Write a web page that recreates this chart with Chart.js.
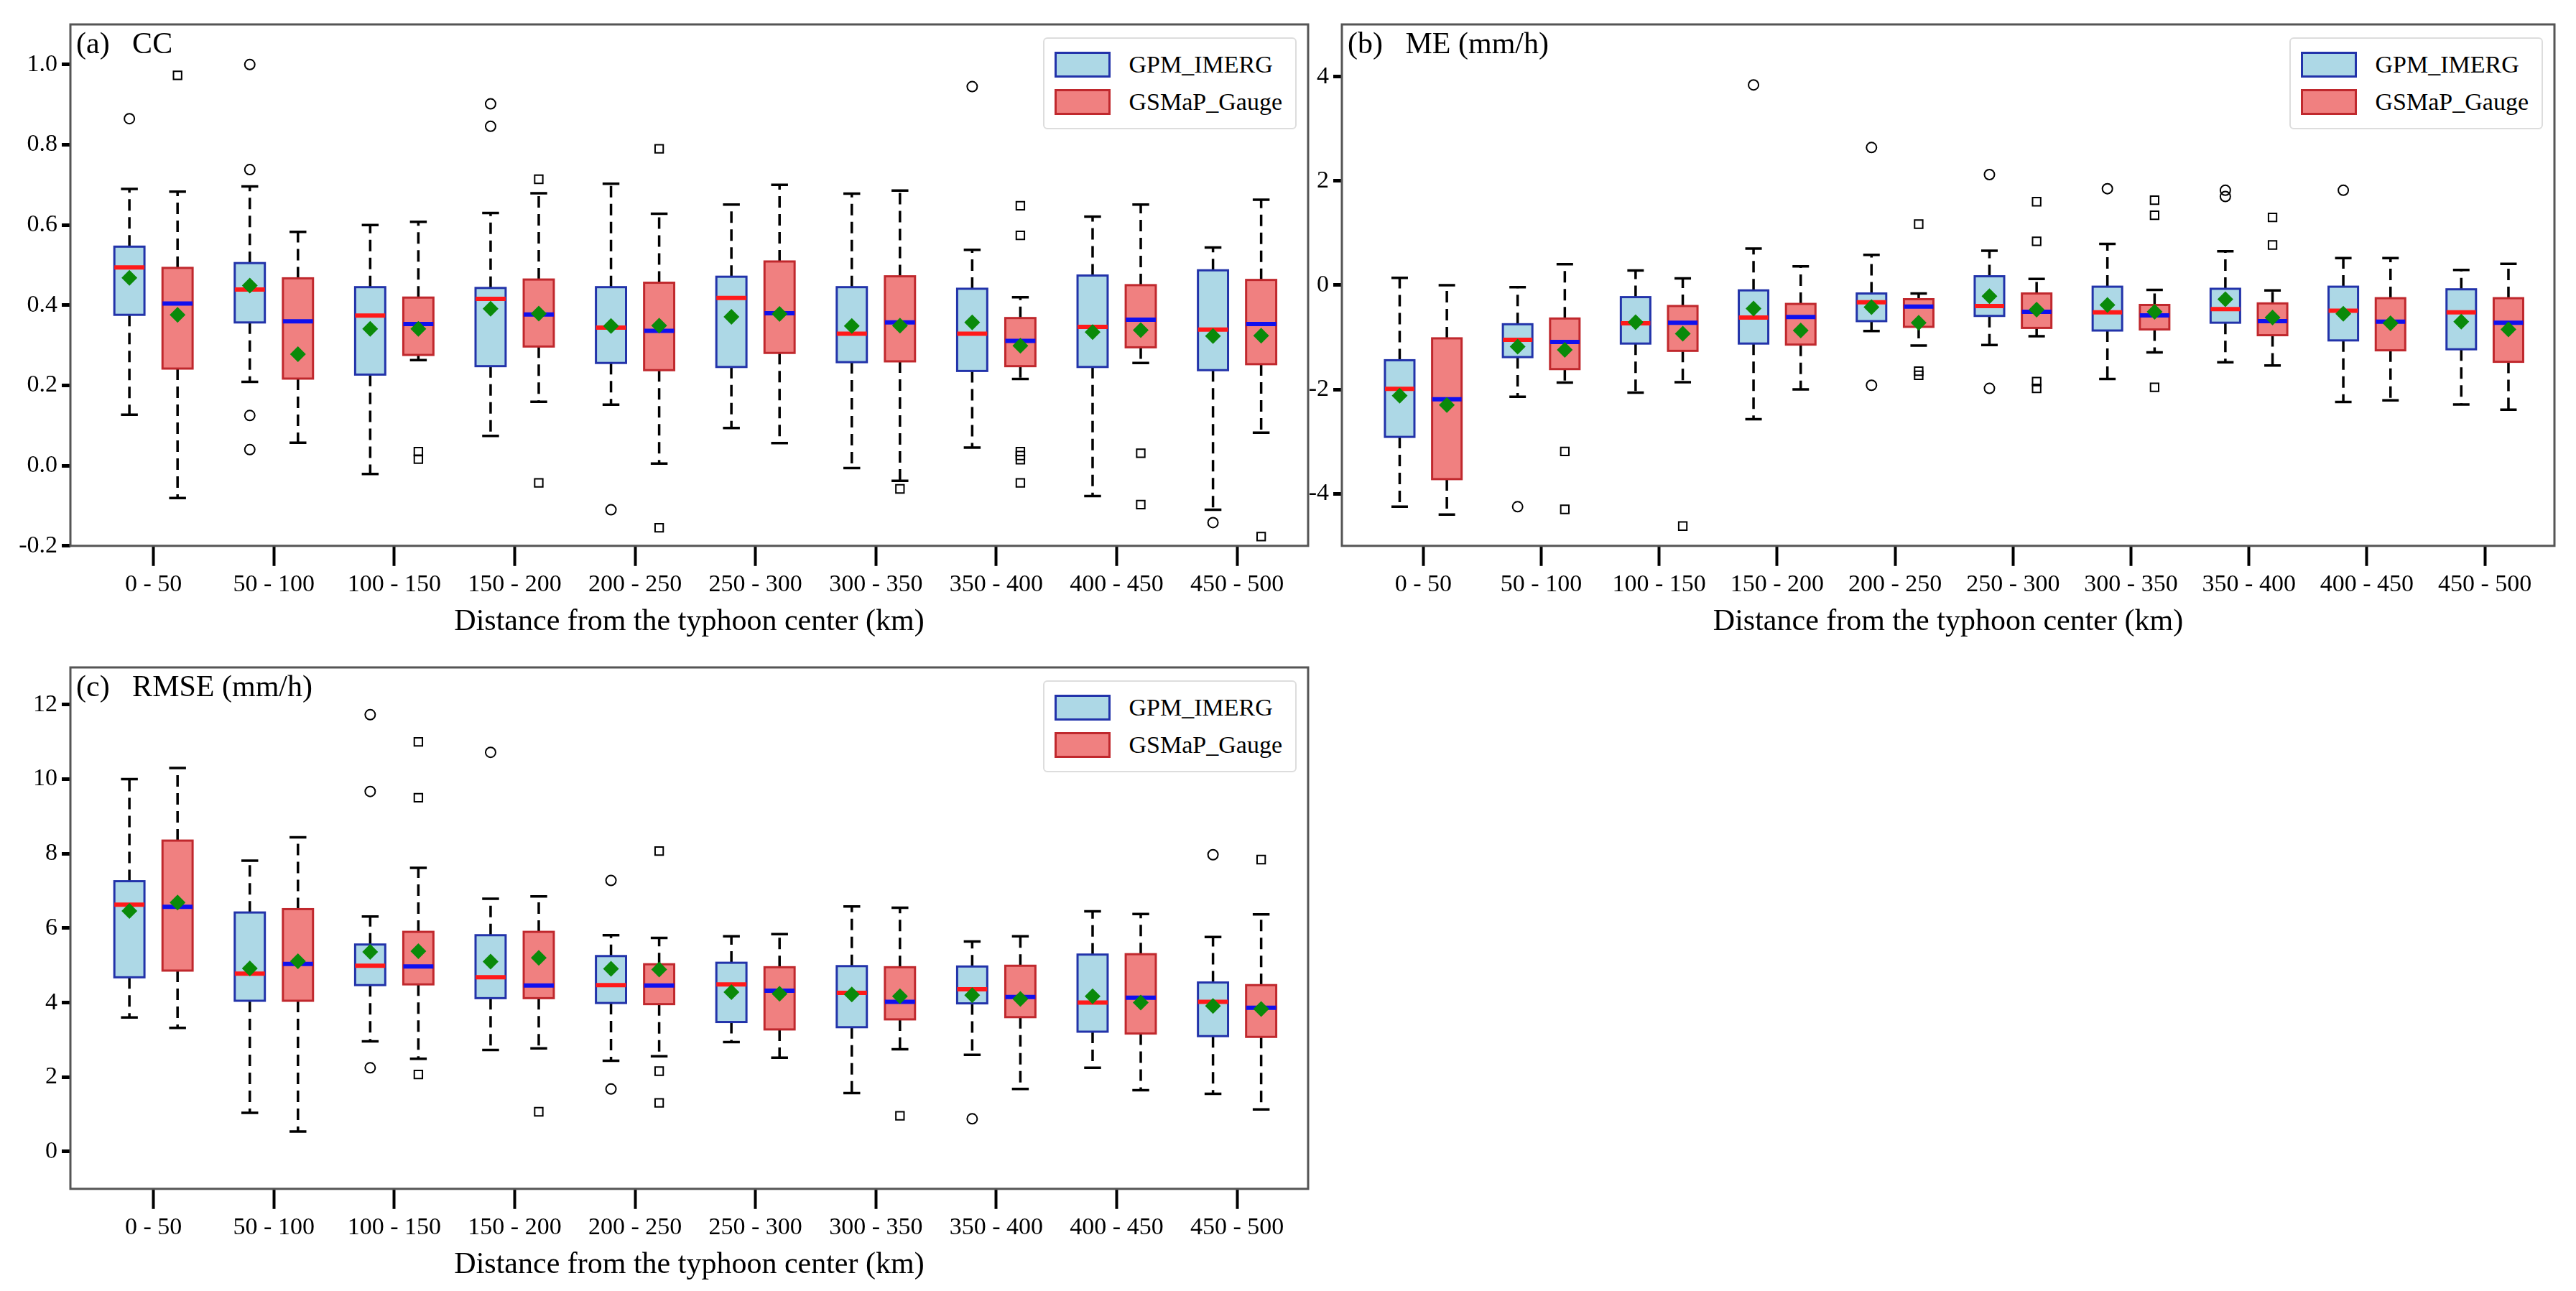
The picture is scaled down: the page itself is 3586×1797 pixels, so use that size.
<!DOCTYPE html>
<html>
<head>
<meta charset="utf-8">
<script src="https://cdn.jsdelivr.net/npm/chart.js@4.4.0/dist/chart.umd.min.js"></script>
<style>
  body { margin: 0; background: #fff; width: 3586px; height: 1797px; position: relative; overflow: hidden; font-family: "Liberation Serif", serif; }
  .wrap { position: absolute; }
  .lab { position: absolute; font-size: 42px; color: #000; white-space: pre; }
  .leg { position: absolute; background: #fff; border: 2px solid #ddd; border-radius: 6px; padding: 10px 18px 10px 14px; font-size: 34px; }
  .leg div { display: flex; align-items: center; height: 52px; }
  .leg span.sw { display: inline-block; width: 78px; height: 36px; margin-right: 26px; box-sizing: border-box; }
</style>
</head>
<body>
<div class="wrap" id="wa" style="left:0;top:0;width:1835px;height:895px"><canvas id="ca"></canvas></div>
<div class="wrap" id="wb" style="left:1770px;top:0;width:1800px;height:895px"><canvas id="cb"></canvas></div>
<div class="wrap" id="wc" style="left:0;top:895px;width:1835px;height:895px"><canvas id="cc"></canvas></div>
<script>
const categories = ['0 - 50', '50 - 100', '100 - 150', '150 - 200', '200 - 250', '250 - 300', '300 - 350', '350 - 400', '400 - 450', '450 - 500'];

// each box: [whiskerLow, q1, median, q3, whiskerHigh]
const ccImerg = [[0.127,0.376,0.494,0.546,0.69],[0.209,0.357,0.439,0.505,0.696],[-0.021,0.227,0.374,0.445,0.6],[0.074,0.248,0.416,0.443,0.63],[0.152,0.256,0.344,0.445,0.703],[0.094,0.246,0.418,0.471,0.651],[-0.006,0.258,0.329,0.445,0.678],[0.045,0.236,0.329,0.441,0.538],[-0.076,0.246,0.346,0.474,0.621],[-0.11,0.238,0.339,0.487,0.544]];
const ccGauge = [[-0.081,0.242,0.404,0.493,0.683],[0.057,0.217,0.36,0.467,0.583],[0.263,0.276,0.353,0.419,0.608],[0.159,0.297,0.377,0.464,0.679],[0.005,0.238,0.336,0.456,0.628],[0.056,0.281,0.38,0.509,0.70],[-0.038,0.26,0.357,0.472,0.686],[0.216,0.248,0.311,0.368,0.42],[0.256,0.295,0.364,0.45,0.651],[0.082,0.253,0.353,0.463,0.663]];
const ccImergMean = [0.468,0.449,0.341,0.391,0.348,0.371,0.348,0.357,0.333,0.323];
const ccGaugeMean = [0.376,0.278,0.341,0.379,0.349,0.378,0.349,0.299,0.338,0.324];
const ccImergOut = [[0.865],[1.0,0.738,0.125,0.04],[],[0.902,0.846],[-0.11],[],[],[0.945],[],[-0.142]];
const ccGaugeOut = [[0.973],[],[0.035,0.016],[0.714,-0.043],[0.79,-0.155],[],[-0.058],[0.648,0.574,0.035,0.025,0.015,-0.043],[0.031,-0.097],[-0.177]];
const ccTicks = [-0.2, 0.0, 0.2, 0.4, 0.6, 0.8, 1.0];

const meImerg = [[-4.25,-2.91,-1.99,-1.44,0.14],[-2.14,-1.38,-1.05,-0.75,-0.04],[-2.06,-1.12,-0.73,-0.23,0.28],[-2.57,-1.12,-0.62,-0.1,0.70],[-0.88,-0.69,-0.33,-0.16,0.58],[-1.15,-0.59,-0.4,0.17,0.66],[-1.8,-0.87,-0.52,-0.03,0.79],[-1.48,-0.72,-0.46,-0.07,0.65],[-2.24,-1.06,-0.49,-0.03,0.52],[-2.29,-1.23,-0.52,-0.08,0.29]];
const meGauge = [[-4.4,-3.72,-2.19,-1.02,0.0],[-1.87,-1.61,-1.09,-0.64,0.40],[-1.86,-1.26,-0.72,-0.4,0.13],[-2.0,-1.14,-0.61,-0.36,0.36],[-1.16,-0.80,-0.41,-0.27,-0.16],[-0.98,-0.82,-0.51,-0.16,0.12],[-1.29,-0.85,-0.58,-0.38,-0.09],[-1.54,-0.96,-0.69,-0.35,-0.1],[-2.21,-1.25,-0.7,-0.25,0.52],[-2.39,-1.47,-0.72,-0.25,0.41]];
const meImergMean = [-2.12,-1.18,-0.71,-0.45,-0.42,-0.21,-0.38,-0.27,-0.55,-0.70];
const meGaugeMean = [-2.30,-1.24,-0.93,-0.87,-0.72,-0.47,-0.51,-0.62,-0.73,-0.85];
const meImergOut = [[],[-4.25],[],[3.84],[2.64,-1.92],[2.12,-1.98],[1.85],[1.82,1.7],[1.82],[]];
const meGaugeOut = [[],[-3.19,-4.3],[-4.62],[],[1.17,-1.65,-1.73],[1.6,0.84,-1.85,-1.98],[1.63,1.34,-1.96],[1.3,0.77],[],[]];
const meTicks = [-4, -2, 0, 2, 4];

const rmImerg = [[3.6,4.68,6.63,7.26,10.0],[1.04,4.05,4.78,6.42,7.81],[2.96,4.47,4.99,5.56,6.31],[2.73,4.12,4.68,5.81,6.79],[2.44,3.99,4.47,5.25,5.81],[2.94,3.48,4.49,5.07,5.78],[1.57,3.34,4.26,4.98,6.58],[2.6,3.98,4.36,4.97,5.64],[2.25,3.22,4.0,5.29,6.45],[1.55,3.1,4.02,4.54,5.76]];
const rmGauge = [[3.32,4.86,6.57,8.35,10.3],[0.54,4.05,5.04,6.51,8.44],[2.49,4.49,4.97,5.9,7.62],[2.77,4.12,4.46,5.9,6.85],[2.56,3.96,4.46,5.03,5.74],[2.52,3.28,4.32,4.95,5.84],[2.75,3.55,4.02,4.95,6.55],[1.68,3.61,4.15,4.99,5.78],[1.65,3.17,4.13,5.3,6.38],[1.13,3.08,3.86,4.47,6.37]];
const rmImergMean = [6.46,4.92,5.36,5.1,4.91,4.28,4.22,4.2,4.17,3.91];
const rmGaugeMean = [6.69,5.11,5.38,5.2,4.89,4.24,4.17,4.1,4.0,3.83];
const rmImergOut = [[],[],[11.73,9.67,2.25],[10.72],[7.28,1.68],[],[],[0.88],[],[7.97]];
const rmGaugeOut = [[],[],[11.0,9.5,2.07],[1.07],[8.07,2.16,1.31],[],[0.96],[],[],[7.84]];
const rmTicks = [0, 2, 4, 6, 8, 10, 12];

const OFF = 0.2, HALF = 0.125, CAP = 0.07;
const FONT = "'Liberation Serif', 'DejaVu Serif', serif";

function pts(arr, off) {
  const out = [];
  arr.forEach((v, i) => { [].concat(v).forEach(y => out.push({ x: i + off, y })); });
  return out;
}

const boxPlugin = {
  id: 'boxes',
  beforeDatasetsDraw(chart) {
    const { ctx, scales: { x, y } } = chart;
    const groups = chart.options.plugins.boxes.groups;
    ctx.save();
    groups.forEach(g => {
      g.data.forEach((b, i) => {
        const cx = x.getPixelForValue(i + g.off);
        const l = x.getPixelForValue(i + g.off - HALF), r = x.getPixelForValue(i + g.off + HALF);
        const cl = x.getPixelForValue(i + g.off - CAP), cr = x.getPixelForValue(i + g.off + CAP);
        const [lo, q1, md, q3, hi] = b.map(v => y.getPixelForValue(v));
        ctx.strokeStyle = '#000'; ctx.lineWidth = 3.5;
        ctx.setLineDash([16, 9]);
        ctx.beginPath(); ctx.moveTo(cx, q3); ctx.lineTo(cx, hi); ctx.moveTo(cx, q1); ctx.lineTo(cx, lo); ctx.stroke();
        ctx.setLineDash([]);
        ctx.beginPath(); ctx.moveTo(cl, hi); ctx.lineTo(cr, hi); ctx.moveTo(cl, lo); ctx.lineTo(cr, lo); ctx.stroke();
        ctx.fillStyle = g.fill; ctx.fillRect(l, q3, r - l, q1 - q3);
        ctx.strokeStyle = g.edge; ctx.lineWidth = 3; ctx.strokeRect(l, q3, r - l, q1 - q3);
        ctx.strokeStyle = g.med; ctx.lineWidth = 6;
        ctx.beginPath(); ctx.moveTo(l, md); ctx.lineTo(r, md); ctx.stroke();
      });
    });
    ctx.restore();
  },
  afterDraw(chart) {
    const { ctx, chartArea: a } = chart;
    ctx.save();
    ctx.strokeStyle = '#555'; ctx.lineWidth = 3;
    ctx.strokeRect(a.left, a.top, a.right - a.left, a.bottom - a.top);
    ctx.restore();
  }
};

function makePanel(id, wrapId, label, imerg, gauge, iMean, gMean, iOut, gOut, ticks, ymin, ymax, digits) {
  const chart = new Chart(document.getElementById(id), {
    type: 'scatter',
    data: {
      datasets: [
        { data: pts(iOut, -OFF), pointStyle: 'circle', radius: 7, borderColor: '#000', borderWidth: 2, backgroundColor: 'rgba(0,0,0,0)' },
        { data: pts(gOut, OFF), pointStyle: 'rect', radius: 8, borderColor: '#000', borderWidth: 2, backgroundColor: 'rgba(0,0,0,0)' },
        { data: pts(iMean, -OFF), pointStyle: 'rectRot', radius: 11, borderWidth: 0, backgroundColor: '#0a8a0a' },
        { data: pts(gMean, OFF), pointStyle: 'rectRot', radius: 11, borderWidth: 0, backgroundColor: '#0a8a0a' }
      ]
    },
    options: {
      responsive: true, maintainAspectRatio: false, animation: false,
      layout: { padding: { left: 0, right: 14, top: 34, bottom: 0 } },
      plugins: {
        legend: { display: false }, tooltip: { enabled: false },
        boxes: { groups: [
          { data: imerg, off: -OFF, fill: '#add8e6', edge: '#2233aa', med: '#ff1a1a' },
          { data: gauge, off: OFF, fill: '#f08080', edge: '#c0282d', med: '#1010ee' }
        ] }
      },
      scales: {
        x: {
          type: 'linear', min: -0.69, max: 9.59,
          afterBuildTicks: s => { s.ticks = categories.map((c, i) => ({ value: i })); },
          ticks: { callback: (v) => categories[v], color: '#000', font: { family: FONT, size: 34 }, maxRotation: 0, autoSkip: false, padding: 6 },
          grid: { drawOnChartArea: false, drawTicks: true, tickLength: 28, tickWidth: 4, color: '#000' },
          border: { display: false },
          title: { display: true, text: 'Distance from the typhoon center (km)', color: '#000', font: { family: FONT, size: 42 }, padding: { top: 0 } }
        },
        y: {
          min: ymin, max: ymax,
          afterBuildTicks: s => { s.ticks = ticks.map(v => ({ value: v })); },
          afterFit: s => { s.width = 98; },
          ticks: { callback: v => v.toFixed(digits), color: '#000', font: { family: FONT, size: 34 }, padding: 6 },
          grid: { drawOnChartArea: false, drawTicks: true, tickLength: 12, tickWidth: 5, color: '#000' },
          border: { display: false }
        }
      }
    },
    plugins: [boxPlugin]
  });
  const a = chart.chartArea, w = document.getElementById(wrapId);
  const lab = document.createElement('div');
  lab.className = 'lab'; lab.textContent = label;
  lab.style.left = (a.left + 8) + 'px'; lab.style.top = (a.top + 2) + 'px';
  w.appendChild(lab);
  const leg = document.createElement('div');
  leg.className = 'leg';
  leg.innerHTML = '<div><span class="sw" style="background:#add8e6;border:3px solid #2233aa"></span>GPM_IMERG</div>' +
                  '<div><span class="sw" style="background:#f08080;border:3px solid #c0282d"></span>GSMaP_Gauge</div>';
  leg.style.top = (a.top + 18) + 'px';
  leg.style.right = (w.clientWidth - a.right + 16) + 'px';
  w.appendChild(leg);
}

makePanel('ca', 'wa', '(a)   CC', ccImerg, ccGauge, ccImergMean, ccGaugeMean, ccImergOut, ccGaugeOut, ccTicks, -0.2, 1.1, 1);
makePanel('cb', 'wb', '(b)   ME (mm/h)', meImerg, meGauge, meImergMean, meGaugeMean, meImergOut, meGaugeOut, meTicks, -5, 5, 0);
makePanel('cc', 'wc', '(c)   RMSE (mm/h)', rmImerg, rmGauge, rmImergMean, rmGaugeMean, rmImergOut, rmGaugeOut, rmTicks, -1, 13, 0);
</script>
</body>
</html>
